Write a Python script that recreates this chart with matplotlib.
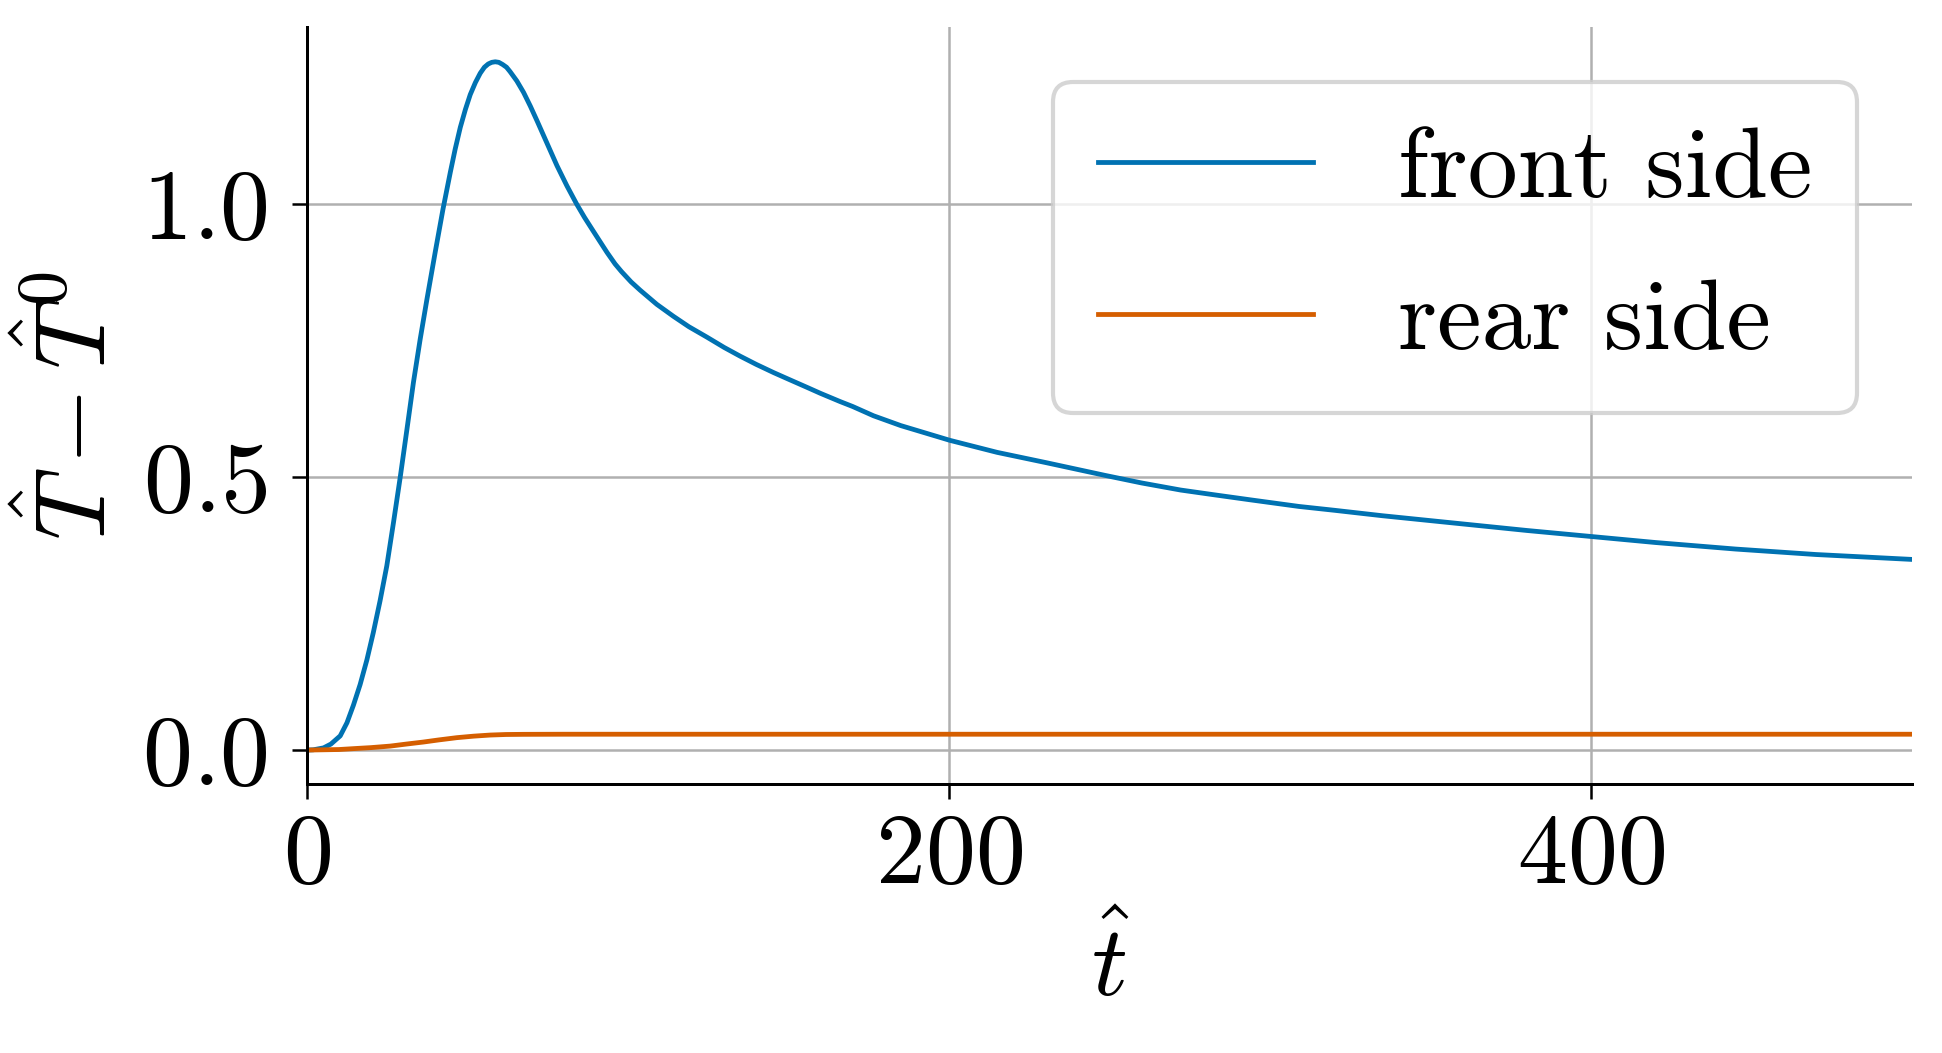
import matplotlib
matplotlib.use('Agg')
import matplotlib.pyplot as plt

# Computer Modern 느낌의 글꼴 설정
plt.rcParams['font.family'] = 'serif'
plt.rcParams['font.serif'] = ['cmr10', 'DejaVu Serif']
plt.rcParams['mathtext.fontset'] = 'cm'
plt.rcParams['axes.formatter.use_mathtext'] = True
plt.rcParams['axes.unicode_minus'] = False
plt.rcParams['font.size'] = 24

# 앞면 온도 상승
t_front = [0, 2, 5.2, 7.5, 10.4, 12.5, 14.5, 16.6, 18.7, 20.7, 22.8, 24.9, 27, 29.1, 31.2,
           33.2, 35.3, 37.4, 40, 42.4, 44.7, 46.2, 47.8, 49.4, 50.9, 52.5, 54, 55.3, 56.5,
           57.6, 58.7, 59.8, 61, 62.2, 63.3, 65.4, 67.5, 69.6, 71.7, 74.8, 77.9, 81, 84,
           86.5, 89, 91.3, 93.5, 96, 98, 101, 103.8, 109, 114.2, 119, 124.6, 130, 135, 140,
           145.4, 150, 155.8, 160, 166.1, 170, 176.5, 185, 200.3, 215, 230.4, 248.5, 260,
           272.2, 283, 294, 309, 320, 335, 360, 380, 400, 420, 445, 470, 500]
T_front = [0.0, 0.0005, 0.004, 0.011, 0.026, 0.050, 0.082, 0.120, 0.165, 0.215, 0.273,
           0.337, 0.417, 0.500, 0.588, 0.673, 0.752, 0.825, 0.912, 0.990, 1.058, 1.100,
           1.140, 1.173, 1.200, 1.222, 1.239, 1.250, 1.256, 1.259, 1.260, 1.259, 1.255,
           1.250, 1.242, 1.225, 1.204, 1.179, 1.152, 1.111, 1.070, 1.033, 1.000, 0.975,
           0.952, 0.931, 0.911, 0.890, 0.876, 0.857, 0.842, 0.816, 0.794, 0.775, 0.756,
           0.737, 0.721, 0.706, 0.691, 0.679, 0.664, 0.653, 0.638, 0.629, 0.612, 0.594,
           0.567, 0.545, 0.526, 0.503, 0.489, 0.476, 0.467, 0.458, 0.446, 0.439, 0.429,
           0.414, 0.402, 0.391, 0.380, 0.368, 0.358, 0.349]

# 뒷면 온도 상승
t_rear = [0, 10, 15.6, 20, 26, 31, 36.3, 41, 46.7, 52, 57.1, 62, 67.5, 80, 100, 200, 300, 400, 500]
T_rear = [0.0, 0.001, 0.003, 0.0045, 0.0073, 0.011, 0.0147, 0.0185, 0.0227, 0.0255, 0.0275,
          0.0285, 0.0288, 0.029, 0.029, 0.029, 0.029, 0.029, 0.029]

labels = ['front side', 'rear side']
colors = ['#0072B2', '#D55E00']

fig, ax = plt.subplots(figsize=(1942 / 300, 1053 / 300), dpi=300)
fig.subplots_adjust(left=0.158, right=0.9846, bottom=0.255, top=0.974)

ax.plot(t_front, T_front, color=colors[0], lw=1.15, label=labels[0])
ax.plot(t_rear, T_rear, color=colors[1], lw=1.15, label=labels[1])

ax.set_xlim(0, 500)
ax.set_xticks([0, 200, 400])
ax.set_yticks([0.0, 0.5, 1.0])
ax.set_xlabel(r'$\hat{t}$')
ax.set_ylabel(r'$\hat{T} - \hat{T}^0$')

ax.grid(True, color='#b0b0b0', lw=0.6)
ax.set_axisbelow(True)
ax.spines['top'].set_visible(False)
ax.spines['right'].set_visible(False)
ax.spines['left'].set_linewidth(0.72)
ax.spines['bottom'].set_linewidth(0.72)
ax.tick_params(width=0.6, length=3.5)
ax.tick_params(axis='y', pad=6)

ax.legend(loc='upper right', labelspacing=0.63, handlelength=2.15, handletextpad=0.85,
          borderpad=0.45, borderaxespad=0.55)

fig.savefig('out.png', dpi=300)
